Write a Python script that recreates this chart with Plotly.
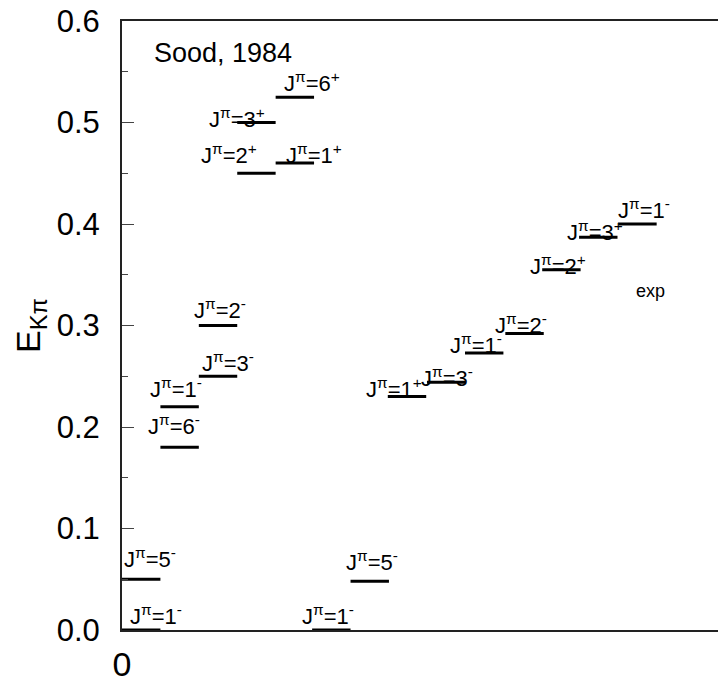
import plotly.graph_objects as go

# ---- data ----
level_x0 = [0, 0, 1, 1, 2, 2, 3, 3, 4, 4, 4.95, 5.95, 6.92, 7.94, 8.93, 9.98, 10.94, 11.9, 12.92]
level_energy = [0.0, 0.05, 0.18, 0.22, 0.25, 0.30, 0.45, 0.50, 0.46, 0.525,
                0.0, 0.048, 0.230, 0.244, 0.273, 0.292, 0.355, 0.387, 0.40]
level_j = ["1", "5", "6", "1", "3", "2", "2", "3", "1", "6",
           "1", "5", "1", "3", "1", "2", "2", "3", "1"]
level_parity = ["-", "-", "-", "-", "-", "-", "+", "+", "+", "+",
                "-", "-", "+", "-", "-", "-", "+", "+", "-"]
level_width = 1.0

y_ticks = [0.0, 0.1, 0.2, 0.3, 0.4, 0.5, 0.6]
x_ticks = [0]

# ---- label placement offsets (layout only) ----
label_dx = [0.385, 0.229, -0.146, -0.094, 0.26, 0.05, -0.714, -0.505, 0.5, 0.448,
            -0.085, 0.06, -0.337, 0.02, -0.21, -0.09, -0.09, -0.08, 0.17]
label_dy = [0.0147, 0.0208, 0.0216, 0.018, 0.0145, 0.0166, 0.019, 0.0044, 0.009, 0.0148,
            0.0147, 0.0198, 0.008, 0.0048, 0.0092, 0.0099, 0.0049, 0.0063, 0.015]

FONT = "Liberation Sans"

xs, ys = [], []
for x0, e in zip(level_x0, level_energy):
    xs += [x0, x0 + level_width, None]
    ys += [e, e, None]

fig = go.Figure()
fig.add_trace(go.Scatter(x=xs, y=ys, mode="lines",
                         line=dict(color="black", width=3),
                         hoverinfo="skip", showlegend=False))
# invisible trace for the mirrored right-hand tick axis
fig.add_trace(go.Scatter(x=[0], y=[0], yaxis="y2", mode="markers",
                         marker=dict(opacity=0), hoverinfo="skip", showlegend=False))

for x0, e, j, p, dx, dy in zip(level_x0, level_energy, level_j, level_parity, label_dx, label_dy):
    fig.add_annotation(x=x0 + level_width / 2 + dx, y=e + dy,
                       text=f"J<sup>π</sup>={j}<sup>{p}</sup>",
                       showarrow=False, xanchor="center", yanchor="middle",
                       font=dict(family=FONT, size=22, color="black"))

fig.add_annotation(x=0.0478, y=0.947, xref="paper", yref="paper", text="Sood, 1984",
                   showarrow=False, xanchor="left", yanchor="middle",
                   font=dict(family=FONT, size=27, color="black"))
fig.add_annotation(x=0.842, y=0.557, xref="paper", yref="paper", text="exp",
                   showarrow=False, xanchor="center", yanchor="middle",
                   font=dict(family=FONT, size=18, color="black"))

fig.update_layout(
    width=742, height=686,
    margin=dict(l=114, r=0, t=13, b=64),
    paper_bgcolor="white", plot_bgcolor="white",
    showlegend=False,
    xaxis=dict(range=[0, 16.35], tickvals=x_ticks, ticktext=[str(v) for v in x_ticks],
               ticks="outside", ticklen=3, tickcolor="rgba(0,0,0,0)",
               showline=True, linecolor="#222", linewidth=2, mirror=True,
               showgrid=False, zeroline=False, automargin=False,
               tickfont=dict(family=FONT, size=34, color="black")),
    yaxis=dict(range=[0, 0.6], tickvals=y_ticks, tickformat=".1f",
               ticks="inside", ticklen=12, tickwidth=1, tickcolor="#444",
               minor=dict(dtick=0.05, ticks="inside", ticklen=6, tickwidth=1, tickcolor="#444"),
               showline=True, linecolor="#222", linewidth=2,
               showgrid=False, zeroline=False, automargin=False,
               ticklabelstandoff=14, ticklabeloverflow="allow",
               tickfont=dict(family=FONT, size=31, color="black"),
               title=dict(text="E<sub>Kπ</sub>", standoff=6,
                          font=dict(family=FONT, size=34, color="black"))),
    yaxis2=dict(range=[0, 0.6], overlaying="y", side="right", anchor="x",
                tickvals=y_ticks, ticks="inside", ticklen=28, tickwidth=1, tickcolor="#444",
                showticklabels=False, showline=False, showgrid=False, zeroline=False,
                automargin=False),
)

fig.write_html("out.html")
